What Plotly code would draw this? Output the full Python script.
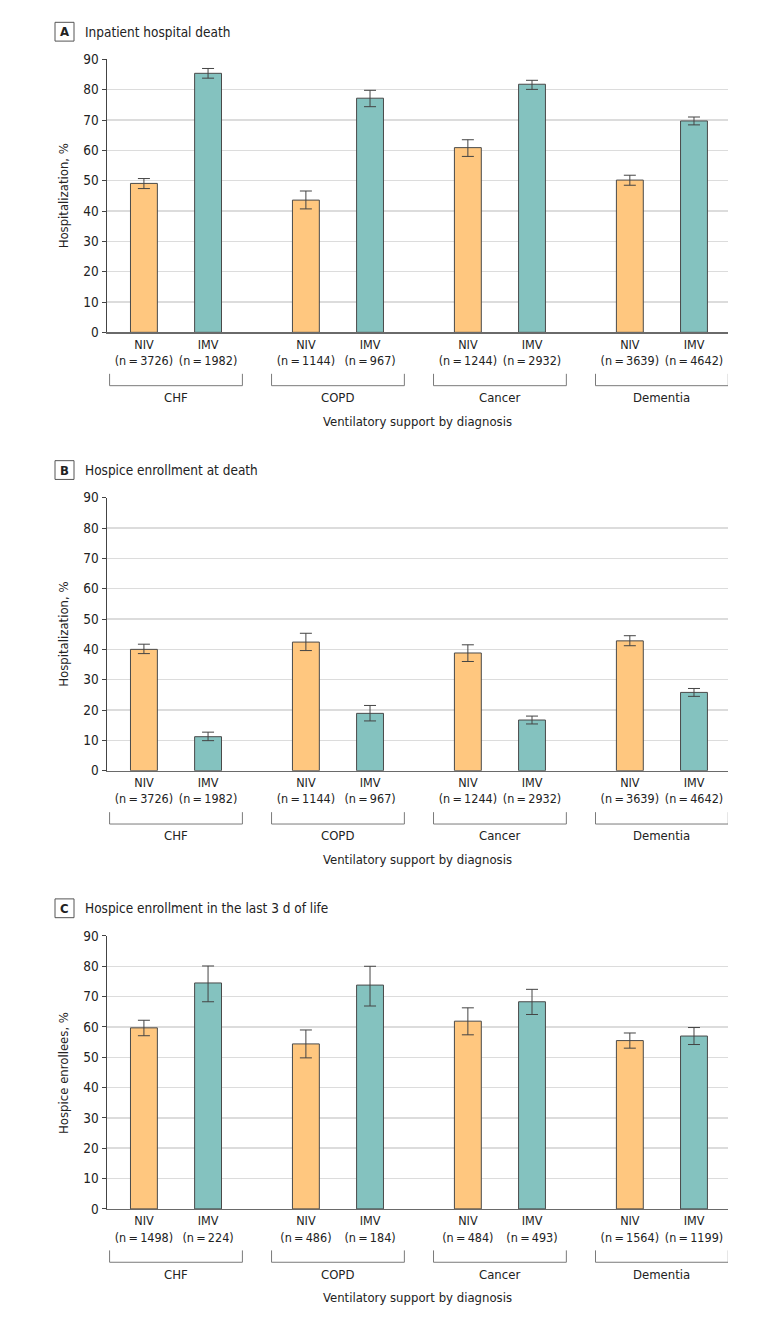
import plotly.graph_objects as go

# ---------------- data ----------------
groups = ["CHF", "COPD", "Cancer", "Dementia"]
modes = ["NIV", "IMV"]

panel_titles = ["Inpatient hospital death",
                "Hospice enrollment at death",
                "Hospice enrollment in the last 3 d of life"]
panel_letters = ["A", "B", "C"]
y_titles = ["Hospitalization, %", "Hospitalization, %", "Hospice enrollees, %"]
x_title = "Ventilatory support by diagnosis"
y_ticks = [0, 10, 20, 30, 40, 50, 60, 70, 80, 90]

# Panel A: inpatient hospital death
a_niv_n = [3726, 1144, 1244, 3639]
a_imv_n = [1982, 967, 2932, 4642]
a_niv = [49.1, 43.6, 60.9, 50.2]
a_niv_lo = [47.4, 40.7, 58.0, 48.5]
a_niv_hi = [50.7, 46.6, 63.5, 51.8]
a_imv = [85.4, 77.2, 81.8, 69.7]
a_imv_lo = [83.8, 74.4, 80.1, 68.4]
a_imv_hi = [87.0, 79.8, 83.1, 71.0]

# Panel B: hospice enrollment at death
b_niv_n = [3726, 1144, 1244, 3639]
b_imv_n = [1982, 967, 2932, 4642]
b_niv = [40.0, 42.4, 38.8, 42.8]
b_niv_lo = [38.6, 39.6, 36.0, 41.2]
b_niv_hi = [41.7, 45.3, 41.5, 44.5]
b_imv = [11.2, 18.9, 16.7, 25.8]
b_imv_lo = [9.9, 16.4, 15.4, 24.5]
b_imv_hi = [12.7, 21.5, 18.0, 27.1]

# Panel C: hospice enrollment in the last 3 d of life
c_niv_n = [1498, 486, 484, 1564]
c_imv_n = [224, 184, 493, 1199]
c_niv = [59.7, 54.4, 61.9, 55.5]
c_niv_lo = [57.1, 49.8, 57.4, 53.0]
c_niv_hi = [62.2, 59.0, 66.3, 58.0]
c_imv = [74.5, 73.8, 68.3, 57.0]
c_imv_lo = [68.3, 66.9, 64.1, 54.2]
c_imv_hi = [80.1, 80.0, 72.4, 59.8]

panels = [
    (a_niv, a_niv_lo, a_niv_hi, a_imv, a_imv_lo, a_imv_hi, a_niv_n, a_imv_n),
    (b_niv, b_niv_lo, b_niv_hi, b_imv, b_imv_lo, b_imv_hi, b_niv_n, b_imv_n),
    (c_niv, c_niv_lo, c_niv_hi, c_imv, c_imv_lo, c_imv_hi, c_niv_n, c_imv_n),
]

# ---------------- styling / layout ----------------
W, H = 783, 1324
FONT = "Liberation Sans Narrow, Arial Narrow, DejaVu Sans Condensed, sans-serif"
NIV_COLOR = "#FFC77F"
IMV_COLOR = "#84C2BF"
EDGE = "#4a4a4a"
TXT = "#222222"


def px(p):
    return p / W


def py(p):
    return 1 - p / H


plot_left, plot_right = 106.5, 728
panel_tops = [52.0, 495.7, 939.3]
unit_px = 30.7
panel_h = 9 * unit_px
offset = 0.198
bar_w = 0.166
x_range = [-0.429, 3.408]
bracket_half = 0.41

fig = go.Figure()
shapes = []
annotations = []

for i, (niv, niv_lo, niv_hi, imv, imv_lo, imv_hi, niv_n, imv_n) in enumerate(panels):
    k = "" if i == 0 else str(i + 1)
    xa, ya = "x" + k, "y" + k
    top = panel_tops[i]
    bottom = top + panel_h

    niv_x = [g - offset for g in range(len(groups))]
    imv_x = [g + offset for g in range(len(groups))]

    fig.add_trace(go.Bar(
        x=niv_x, y=niv, width=bar_w, xaxis=xa, yaxis=ya,
        marker=dict(color=NIV_COLOR, line=dict(color=EDGE, width=1)),
        error_y=dict(type="data", symmetric=False,
                     array=[h - v for h, v in zip(niv_hi, niv)],
                     arrayminus=[v - l for v, l in zip(niv, niv_lo)],
                     color="#444444", thickness=1, width=6),
        showlegend=False, hoverinfo="skip"))
    fig.add_trace(go.Bar(
        x=imv_x, y=imv, width=bar_w, xaxis=xa, yaxis=ya,
        marker=dict(color=IMV_COLOR, line=dict(color=EDGE, width=1)),
        error_y=dict(type="data", symmetric=False,
                     array=[h - v for h, v in zip(imv_hi, imv)],
                     arrayminus=[v - l for v, l in zip(imv, imv_lo)],
                     color="#444444", thickness=1, width=6),
        showlegend=False, hoverinfo="skip"))

    tickvals, ticktext = [], []
    for g in range(len(groups)):
        tickvals += [niv_x[g], imv_x[g]]
        ticktext += [f"{modes[0]}<br>(n\u2009=\u2009{niv_n[g]})",
                     f"{modes[1]}<br>(n\u2009=\u2009{imv_n[g]})"]

    fig.layout["xaxis" + k] = dict(
        domain=[px(plot_left), px(plot_right)], range=x_range,
        anchor=ya, showgrid=False, zeroline=False,
        showline=True, linecolor="#6a6a6a", linewidth=1.5,
        ticks="", tickvals=tickvals, ticktext=ticktext,
        tickfont=dict(family=FONT, size=12.5, color=TXT), fixedrange=True)
    fig.layout["yaxis" + k] = dict(
        domain=[py(bottom), py(top)], range=[0, 90],
        anchor=xa, tickvals=y_ticks, showgrid=True,
        gridcolor="#dcdcdc", gridwidth=1.5, zeroline=False,
        showline=True, linecolor="#444444", linewidth=1,
        ticks="outside", ticklen=4, tickcolor="#444444", tickwidth=1,
        tickfont=dict(family=FONT, size=13.5, color=TXT), fixedrange=True)

    # brackets and group labels
    for g, name in enumerate(groups):
        y1 = py(bottom + 42)
        y2 = py(bottom + 54)
        shapes.append(dict(
            type="path", xref=xa, yref="paper",
            path=f"M {g - bracket_half},{y1} L {g - bracket_half},{y2} "
                 f"L {g + bracket_half},{y2} L {g + bracket_half},{y1}",
            line=dict(color="#7a7a7a", width=1)))
        annotations.append(dict(
            x=g, xref=xa, y=py(bottom + 66), yref="paper",
            text=name, showarrow=False, xanchor="center", yanchor="middle",
            font=dict(family=FONT, size=13, color=TXT)))

    # x-axis title
    annotations.append(dict(
        x=px((plot_left + plot_right) / 2), xref="paper",
        y=py(bottom + 90), yref="paper", text=x_title, showarrow=False,
        xanchor="center", yanchor="middle",
        font=dict(family=FONT, size=13, color=TXT)))

    # y-axis title
    annotations.append(dict(
        x=px(63.5), xref="paper", y=py((top + bottom) / 2), yref="paper",
        text=y_titles[i], textangle=-90, showarrow=False,
        xanchor="center", yanchor="middle",
        font=dict(family=FONT, size=13, color=TXT)))

    # panel title with letter box
    ty = top - 28
    shapes.append(dict(
        type="rect", xref="paper", yref="paper",
        x0=px(55), x1=px(74), y0=py(ty - 9.5), y1=py(ty + 9.5),
        line=dict(color="#555555", width=1), fillcolor="white"))
    annotations.append(dict(
        x=px(64.5), xref="paper", y=py(ty), yref="paper",
        text=f"<b>{panel_letters[i]}</b>", showarrow=False,
        xanchor="center", yanchor="middle",
        font=dict(family=FONT, size=13, color=TXT)))
    annotations.append(dict(
        x=px(83), xref="paper", y=py(ty), yref="paper",
        text=panel_titles[i], showarrow=False,
        xanchor="left", yanchor="middle",
        font=dict(family=FONT, size=13.5, color=TXT)))

fig.update_layout(
    width=W, height=H,
    margin=dict(l=0, r=0, t=0, b=0),
    paper_bgcolor="white", plot_bgcolor="white",
    barmode="overlay", bargap=0,
    shapes=shapes, annotations=annotations,
    font=dict(family=FONT, color=TXT),
)

# place the plot flush with the page's top-left corner
page_js = (
    "document.documentElement.style.margin='0';"
    "document.body.style.margin='0';"
    "document.body.style.overflow='hidden';"
    "var gd=document.getElementById('{plot_id}');"
    "gd.style.position='absolute';gd.style.left='0px';gd.style.top='0px';"
)

fig.write_html("out.html", post_script=page_js,
               config={"displayModeBar": False, "staticPlot": True})
